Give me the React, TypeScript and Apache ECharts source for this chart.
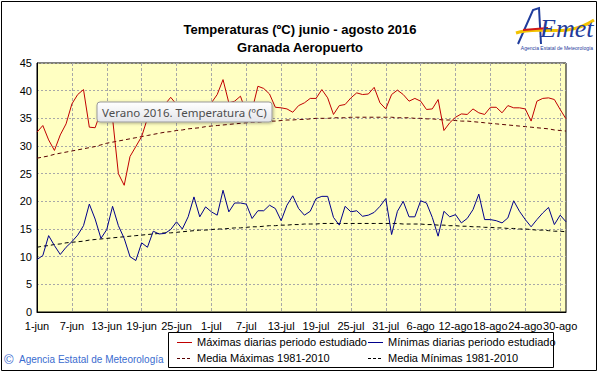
import React, { useEffect, useRef } from "react";
import * as echarts from "echarts";

const monthNames = ["jun", "jul", "ago"];
const monthLengths = [30, 31, 31];

const maximas = [
  32.5, 33.7, 31.1, 29.2, 32.0, 34.0, 37.6, 39.3, 40.2, 33.4,
  33.3, 36.3, 37.0, 35.0, 25.0, 22.9, 28.1, 29.9, 31.7, 35.0,
  36.5, 37.0, 37.5, 38.8, 37.5, 36.5, 35.5, 36.0, 37.0, 36.5,
  37.8, 39.3, 42.0, 37.8, 38.1, 39.0, 36.0, 36.5, 40.8, 40.4,
  39.4, 37.0, 36.9, 36.7, 36.1, 37.3, 37.8, 38.6, 38.6, 40.2,
  38.7, 35.7, 37.3, 37.5, 38.7, 39.6, 39.3, 39.4, 40.6, 37.8,
  36.7, 39.3, 40.1, 39.3, 38.1, 38.6, 38.1, 36.6, 36.7, 38.4,
  32.8, 34.2, 35.2, 35.8, 35.7, 36.7, 36.0, 35.7, 37.0, 37.0,
  36.0, 37.3, 36.9, 36.9, 36.7, 34.5, 38.1, 38.6, 38.7, 38.4,
  36.6, 34.9,
];

const minimas = [
  9.5, 10.2, 13.8, 12.0, 10.4, 11.7, 12.7, 13.9, 15.6, 19.5,
  16.8, 13.3, 14.9, 19.1, 15.6, 13.3, 10.0, 9.3, 12.5, 11.7,
  14.6, 14.1, 14.2, 14.9, 16.3, 15.0, 17.2, 20.8, 17.2, 19.0,
  18.1, 17.5, 22.0, 18.1, 19.7, 19.7, 19.5, 16.9, 18.3, 18.3,
  19.3, 18.7, 16.5, 19.3, 21.0, 18.7, 17.5, 18.2, 20.5, 20.9,
  20.9, 17.1, 15.7, 19.1, 18.1, 18.3, 17.3, 17.5, 18.0, 19.1,
  20.5, 14.0, 18.2, 20.0, 17.2, 17.2, 20.1, 19.7, 17.1, 13.7,
  18.2, 17.2, 17.6, 16.1, 16.9, 18.5, 21.3, 16.7, 16.7, 16.5,
  16.1, 17.0, 20.1, 18.2, 16.7, 15.4, 16.7, 17.9, 18.9, 15.8,
  17.5, 16.3,
];

const mediaMaximas = [
  27.8, 28.0, 28.2, 28.5, 28.7, 28.9, 29.1, 29.3, 29.5, 29.7,
  29.9, 30.2, 30.5, 30.7, 30.9, 31.1, 31.3, 31.5, 31.7, 31.9,
  32.1, 32.3, 32.5, 32.6, 32.8, 32.9, 33.1, 33.2, 33.3, 33.5,
  33.6, 33.7, 33.8, 33.9, 34.0, 34.1, 34.2, 34.3, 34.3, 34.4,
  34.5, 34.5, 34.6, 34.7, 34.7, 34.8, 34.8, 34.9, 35.0, 35.0,
  35.0, 35.1, 35.1, 35.1, 35.2, 35.2, 35.2, 35.2, 35.2, 35.2,
  35.2, 35.2, 35.1, 35.1, 35.1, 35.0, 35.0, 34.9, 34.9, 34.8,
  34.7, 34.7, 34.6, 34.5, 34.5, 34.4, 34.3, 34.2, 34.1, 34.0,
  33.9, 33.8, 33.7, 33.6, 33.5, 33.4, 33.3, 33.2, 33.1, 32.9,
  32.8, 32.7,
];

const mediaMinimas = [
  11.7, 11.9, 12.0, 12.2, 12.3, 12.5, 12.6, 12.7, 12.8, 13.0,
  13.1, 13.2, 13.3, 13.4, 13.5, 13.6, 13.7, 13.8, 13.9, 14.0,
  14.1, 14.2, 14.3, 14.3, 14.4, 14.5, 14.6, 14.7, 14.8, 14.8,
  14.9, 15.0, 15.0, 15.1, 15.2, 15.2, 15.3, 15.4, 15.4, 15.5,
  15.6, 15.6, 15.7, 15.7, 15.8, 15.8, 15.9, 15.9, 15.9, 16.0,
  16.0, 16.0, 16.0, 16.0, 16.0, 16.0, 16.0, 16.0, 16.0, 16.0,
  16.0, 16.0, 16.0, 15.9, 15.9, 15.9, 15.9, 15.8, 15.8, 15.7,
  15.7, 15.6, 15.6, 15.5, 15.5, 15.4, 15.4, 15.3, 15.3, 15.2,
  15.2, 15.1, 15.1, 15.0, 15.0, 14.9, 14.8, 14.8, 14.7, 14.6,
  14.6, 14.5,
];

const yTicks = { min: 0, max: 45, step: 5 };

const seriesNames = [
  "Máximas diarias periodo estudiado",
  "Mínimas diarias periodo estudiado",
  "Media Máximas 1981-2010",
  "Media Mínimas 1981-2010",
];
const seriesColors = ["#C00000", "#00008B", "#5a0000", "#000000"];

const titleLines = ["Temperaturas (ºC) junio - agosto 2016", "Granada Aeropuerto"];
const tooltipText = "Verano 2016. Temperatura (ºC)";
const copyrightText = "Agencia Estatal de Meteorología";

function buildCategories(): string[] {
  const out: string[] = [];
  monthNames.forEach((m, k) => {
    for (let d = 1; d <= monthLengths[k]; d++) out.push(`${d}-${m}`);
  });
  return out;
}

const FONT = '"Liberation Sans", Arial, sans-serif';

export default function App() {
  const ref = useRef<HTMLDivElement>(null);
  useEffect(() => {
    document.body.style.margin = "0";
    if (!ref.current) return;
    const chart = echarts.init(ref.current, undefined, { renderer: "svg" });
    const categories = buildCategories();
    const lineBase = { type: "line", symbol: "none", smooth: false, silent: true };

    // manual legend layout (2 x 2)
    const legendCols = [177, 368];
    const legendRows = [342, 358];
    const legendItems: any[] = [];
    seriesNames.forEach((name, k) => {
      const col = legendCols[k % 2];
      const row = legendRows[Math.floor(k / 2)];
      const dashed = k >= 2;
      legendItems.push({
        type: "line",
        shape: { x1: col, y1: row + 0.5, x2: col + 15, y2: row + 0.5 },
        style: { stroke: seriesColors[k], lineWidth: 1, lineDash: dashed ? [3, 2] : null },
        z: 5,
        silent: true,
      });
      legendItems.push({
        type: "text",
        x: col + 20,
        y: row,
        style: { text: name, fontSize: 11, fill: "#000", textVerticalAlign: "middle", fontFamily: FONT },
        z: 5,
      });
    });

    chart.setOption({
      animation: false,
      backgroundColor: "#ffffff",
      textStyle: { fontFamily: FONT },
      grid: {
        left: 37,
        top: 63,
        width: 529,
        height: 249,
        show: true,
        backgroundColor: "#FFFFC2",
        borderColor: "#000",
        borderWidth: 1,
      },
      xAxis: {
        type: "category",
        data: categories,
        boundaryGap: false,
        axisLine: { lineStyle: { color: "#000", width: 1 } },
        axisTick: { show: false },
        axisLabel: { interval: 5, color: "#000", fontSize: 11, margin: 8, fontFamily: FONT },
        splitLine: { show: true, interval: 5, lineStyle: { color: "#a8a8a8", type: [3, 2], width: 1 } },
      },
      yAxis: {
        type: "value",
        min: yTicks.min,
        max: yTicks.max,
        interval: yTicks.step,
        axisLine: { show: true, lineStyle: { color: "#000" } },
        axisTick: { show: false },
        axisLabel: { color: "#000", fontSize: 11, margin: 5, fontFamily: FONT },
        splitLine: { show: true, lineStyle: { color: "#a8a8a8", type: [2, 2], width: 1 } },
      },
      series: [
        { ...lineBase, name: seriesNames[0], data: maximas, lineStyle: { color: seriesColors[0], width: 1 }, z: 4 },
        { ...lineBase, name: seriesNames[1], data: minimas, lineStyle: { color: seriesColors[1], width: 1 }, z: 4 },
        { ...lineBase, name: seriesNames[2], data: mediaMaximas, lineStyle: { color: seriesColors[2], width: 1, type: [4, 3] }, z: 3 },
        { ...lineBase, name: seriesNames[3], data: mediaMinimas, lineStyle: { color: seriesColors[3], width: 1, type: [4, 3] }, z: 3 },
      ],
      graphic: [
        // outer frame
        { type: "rect", shape: { x: 1.5, y: 1.5, width: 595, height: 369 }, style: { fill: "none", stroke: "#000", lineWidth: 1 }, z: 0, silent: true },
        // title
        { type: "text", x: 300, y: 29, style: { text: titleLines[0], fontSize: 13, fontWeight: "bold", fill: "#000", textAlign: "center", textVerticalAlign: "middle", fontFamily: FONT } },
        { type: "text", x: 300, y: 47, style: { text: titleLines[1], fontSize: 13, fontWeight: "bold", fill: "#000", textAlign: "center", textVerticalAlign: "middle", fontFamily: FONT } },
        // legend box
        { type: "rect", shape: { x: 168.5, y: 332.5, width: 385, height: 35 }, style: { fill: "#fff", stroke: "#000", lineWidth: 1 }, z: 1, silent: true },
        ...legendItems,
        // copyright
        { type: "text", x: 4, y: 359, style: { text: "©", fontSize: 13, fill: "#3a6ccf", textVerticalAlign: "middle", fontFamily: FONT } },
        { type: "text", x: 19, y: 359, style: { text: copyrightText, fontSize: 10, fill: "#3a6ccf", textVerticalAlign: "middle", fontFamily: FONT } },
        // tooltip box
        {
          type: "rect",
          z: 100,
          shape: { x: 97, y: 102, width: 175, height: 20, r: 3 },
          style: {
            fill: new echarts.graphic.LinearGradient(0, 0, 0, 1, [
              { offset: 0, color: "#ffffff" },
              { offset: 1, color: "#e4e5ea" },
            ]),
            stroke: "#9a9a9a",
            lineWidth: 1,
            shadowBlur: 3,
            shadowOffsetX: 1,
            shadowOffsetY: 1,
            shadowColor: "rgba(0,0,0,0.3)",
          },
          silent: true,
        },
        { type: "text", z: 101, x: 102, y: 112, style: { text: tooltipText, fontSize: 11.5, fill: "#4d4d4d", textVerticalAlign: "middle", fontFamily: '"Noto Sans", "Open Sans", sans-serif' } },
        // logo
        { type: "polyline", z: 10, shape: { points: [[518, 44], [533, 10], [539, 8], [541, 44]] }, style: { stroke: "#1f3c9c", lineWidth: 2, fill: "none" } },
        { type: "bezierCurve", z: 10, shape: { x1: 516, y1: 33, x2: 594, y2: 20, cpx1: 540, cpy1: 25, cpx2: 565, cpy2: 39 }, style: { stroke: "#f2c200", lineWidth: 3, fill: "none" } },
        { type: "line", z: 11, shape: { x1: 523, y1: 30, x2: 548, y2: 28 }, style: { stroke: "#d01818", lineWidth: 2 } },
        { type: "text", z: 12, x: 540, y: 41, style: { text: "Emet", fontSize: 26, fontStyle: "italic", fill: "#1f3c9c", textVerticalAlign: "bottom", fontFamily: '"Liberation Serif", serif' } },
        { type: "text", z: 12, x: 557, y: 48, style: { text: "Agencia Estatal de Meteorología", fontSize: 5, fill: "#1f3c9c", textAlign: "center", textVerticalAlign: "middle", fontFamily: FONT } },
      ],
    });
    return () => chart.dispose();
  }, []);
  return <div ref={ref} style={{ position: "absolute", left: 0, top: 0, width: 600, height: 373 }} />;
}
